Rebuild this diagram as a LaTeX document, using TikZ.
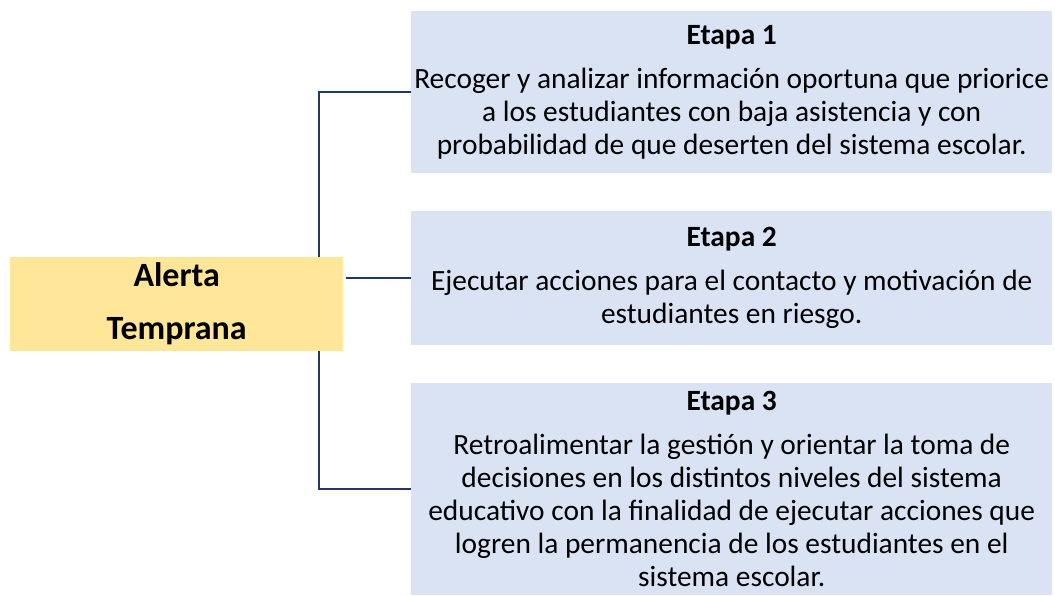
\documentclass[tikz,border=0pt]{standalone}
\usepackage{fontspec}
\setmainfont{Carlito}
\definecolor{stagefill}{HTML}{DAE3F3}
\definecolor{rootfill}{HTML}{FFE699}
\definecolor{connclr}{HTML}{1F3864}
\begin{document}
\begin{tikzpicture}[x=1pt,y=1pt,
  stagebox/.style={fill=stagefill, draw=none, anchor=north west, minimum width=641pt, inner sep=0pt, align=center, font=\fontsize{29.4}{33}\selectfont},
  rootbox/.style={fill=rootfill, draw=none, anchor=north west, minimum width=333pt, minimum height=94pt, inner sep=0pt, align=center, font=\fontsize{34}{53}\selectfont\bfseries},
  conn/.style={draw=connclr, line width=2.4pt}]
\useasboundingbox (0,0) rectangle (1055,-595);
\node[stagebox, minimum height=162pt] (e1) at (411,-11) {\textbf{Etapa 1}\\[11pt]Recoger y analizar información oportuna que priorice\\a los estudiantes con baja asistencia y con\\probabilidad de que deserten del sistema escolar.};
\node[stagebox, minimum height=134pt] (e2) at (411,-211) {\textbf{Etapa 2}\\[11pt]Ejecutar acciones para el contacto y motivación de\\estudiantes en riesgo.};
\node[stagebox, minimum height=212pt] (e3) at (411,-383) {\textbf{Etapa 3}\\[11pt]Retroalimentar la gestión y orientar la toma de\\decisiones en los distintos niveles del sistema\\educativo con la finalidad de ejecutar acciones que\\logren la permanencia de los estudiantes en el\\sistema escolar.};
\coordinate (spine) at (319,0);
\draw[conn] (e1.west) -- (e1.west -| spine) -- (e3.west -| spine) -- (e3.west);
\node[rootbox] (root) at (10,-257) {Alerta\\Temprana};
\draw[conn] ([xshift=3pt]root.east |- e2.west) -- (e2.west);
\end{tikzpicture}
\end{document}
